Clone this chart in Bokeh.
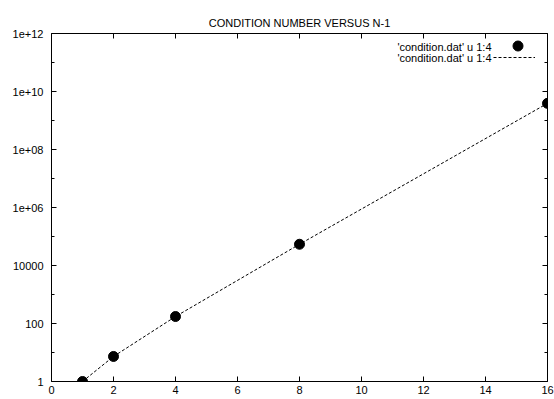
from bokeh.plotting import figure
from bokeh.models import (FixedTicker, LinearAxis, LogAxis, Legend, LegendItem,
                          Label, CustomJSTickFormatter)
from bokeh.embed import file_html
from bokeh.resources import INLINE

# ---- data ----
n_minus_1 = [1, 2, 4, 8, 16]
condition_number = [1.0, 7.3, 174.0, 5.4e4, 3.9e9]

x_ticks = [0, 2, 4, 6, 8, 10, 12, 14, 16]
y_ticks = [1, 10**2, 10**4, 10**6, 10**8, 10**10, 10**12]
y_minor_ticks = [10, 10**3, 10**5, 10**7, 10**9, 10**11]
y_tick_labels = ["1", "100", "10000", "1e+06", "1e+08", "1e+10", "1e+12"]

title_text = "CONDITION NUMBER VERSUS N-1"
legend_label = "'condition.dat' u 1:4"

FONT = "Liberation Sans"
FS = "11px"

p = figure(width=554, height=399, x_range=(0, 16), y_range=(1, 1e12),
           y_axis_type="log", output_backend="svg", toolbar_location=None,
           min_border_left=51, min_border_right=7, min_border_top=33,
           min_border_bottom=18, background_fill_color="white",
           border_fill_color="white", outline_line_color="black",
           outline_line_width=1)
p.grid.visible = False

p.title.text = title_text
p.title.align = "center"
p.title.text_font = FONT
p.title.text_font_size = FS
p.title.text_font_style = "normal"
p.title.text_color = "black"


def style_axis(ax):
    ax.axis_line_color = None
    ax.major_tick_in = 5
    ax.major_tick_out = 0
    ax.minor_tick_in = 3
    ax.minor_tick_out = 0
    ax.major_tick_line_color = "black"
    ax.minor_tick_line_color = "black"
    ax.major_label_text_font = FONT
    ax.major_label_text_color = "black"
    ax.major_label_text_font_size = FS


# bottom x axis
xa = p.xaxis[0]
xa.ticker = FixedTicker(ticks=x_ticks)
style_axis(xa)
xa.minor_tick_line_color = None
xa.major_label_standoff = 4

# left y axis
ya = p.yaxis[0]
ya.ticker = FixedTicker(ticks=y_ticks, minor_ticks=y_minor_ticks)
ya.major_label_overrides = {t: lab for t, lab in zip(y_ticks, y_tick_labels)}
style_axis(ya)
ya.major_label_standoff = 8

# mirrored ticks (no labels)
top = LinearAxis(ticker=FixedTicker(ticks=x_ticks),
                 formatter=CustomJSTickFormatter(code="return '';"))
style_axis(top)
top.minor_tick_line_color = None
top.major_label_standoff = 0
p.add_layout(top, "above")

right = LogAxis(ticker=FixedTicker(ticks=y_ticks, minor_ticks=y_minor_ticks),
                formatter=CustomJSTickFormatter(code="return '';"))
style_axis(right)
right.major_label_standoff = 0
p.add_layout(right, "right")

# data
line_r = p.line(n_minus_1, condition_number, line_color="black",
                line_dash="3 2", line_width=1)
pts_r = p.scatter(n_minus_1, condition_number, size=10, color="black")

# legend (gnuplot style: text left, sample right)
common = dict(label_width=0, label_standoff=0, padding=0, spacing=0, margin=0,
              border_line_color=None, background_fill_alpha=0,
              label_text_font_size=FS)
legend_pts = Legend(items=[LegendItem(label=" ", renderers=[pts_r])],
                    location=(454, 323), glyph_width=25, glyph_height=25,
                    label_height=25, **common)
legend_line = Legend(items=[LegendItem(label=" ", renderers=[line_r])],
                     location=(442, 318), glyph_width=42, glyph_height=12,
                     label_height=12, **common)
p.add_layout(legend_pts)
p.add_layout(legend_line)

for yy in [335, 324]:
    p.add_layout(Label(x=440, y=yy, x_units="screen", y_units="screen",
                       text=legend_label, text_align="right",
                       text_baseline="middle", text_font=FONT,
                       text_font_size=FS, text_color="black"))

open("out.html", "w").write(file_html(p, INLINE))
